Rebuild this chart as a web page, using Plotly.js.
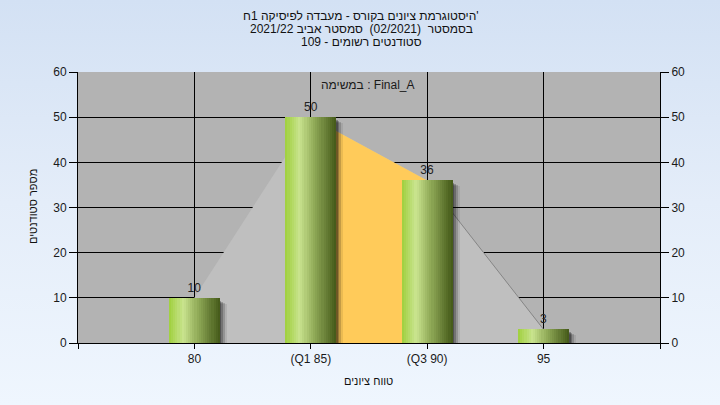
<!DOCTYPE html>
<html>
<head>
<meta charset="utf-8">
<script src="https://cdn.plot.ly/plotly-3.0.1.min.js"></script>
<style>
  html, body { margin: 0; padding: 0; }
  body { width: 720px; height: 405px; background: linear-gradient(to bottom, #d3e1f4 0%, #e4edf9 50%, #eff6fe 100%); }
  #chart { width: 720px; height: 405px; }
</style>
</head>
<body>
<div id="chart"></div>
<script>
// ---- data ----
const categories = ['80', '(Q1 85)', '(Q3 90)', '95'];
const counts = [10, 50, 36, 3];
const q1Index = 1;
const q3Index = 2;
const yTicks = [0, 10, 20, 30, 40, 50, 60];
const titleLines = [
  "היסטוגרמת ציונים בקורס - מעבדה לפיסיקה 1ח'",
  "בסמסטר  (02/2021)  סמסטר אביב 2021/22",
  "סטודנטים רשומים - 109"
];
const taskLabel = "במשימה : Final_A";
const xTitle = "טווח ציונים";
const yTitle = "מספר סטודנטים";

// ---- geometry / style ----
const plotL = 78, plotR = 660, plotT = 72, plotB = 343;
const W = 720, H = 405;
const xRange = [-1, categories.length];
const yRange = [0, 60];
const ux = (xRange[1] - xRange[0]) / (plotR - plotL); // units per px
const uy = (yRange[1] - yRange[0]) / (plotB - plotT);
const barW = 51 * ux;
const FONT = '"Liberation Sans", Arial, "DejaVu Sans", sans-serif';

const xIdx = categories.map((_, i) => i);

function hex(c) { return [parseInt(c.slice(1,3),16), parseInt(c.slice(3,5),16), parseInt(c.slice(5,7),16)]; }
const stops = [[0, '#9fcf3c'], [0.28, '#c9e48f'], [0.55, '#93ad5a'], [1, '#435818']];
function gradColor(t) {
  for (let i = 0; i < stops.length - 1; i++) {
    const [t0, c0] = stops[i], [t1, c1] = stops[i+1];
    if (t >= t0 && t <= t1) {
      const f = (t - t0) / (t1 - t0);
      const a = hex(c0), b = hex(c1);
      const m = a.map((v, k) => Math.round(v + (b[k] - v) * f));
      return `rgb(${m[0]},${m[1]},${m[2]})`;
    }
  }
  return stops[stops.length-1][1];
}

const traces = [];
// area behind bars (base subplot)
traces.push({
  type: 'scatter', x: xIdx, y: counts, mode: 'none', fill: 'tozeroy',
  fillcolor: '#bfbfbf', hoverinfo: 'skip', showlegend: false, xaxis: 'x', yaxis: 'y'
});
traces.push({
  type: 'scatter', x: xIdx.slice(q1Index, q3Index + 1), y: counts.slice(q1Index, q3Index + 1),
  mode: 'none', fill: 'tozeroy', fillcolor: '#ffcb5a', hoverinfo: 'skip', showlegend: false,
  xaxis: 'x', yaxis: 'y'
});
traces.push({
  type: 'scatter', x: xIdx.slice(q3Index), y: counts.slice(q3Index),
  mode: 'lines', line: { color: '#858585', width: 1 }, hoverinfo: 'skip', showlegend: false,
  xaxis: 'x', yaxis: 'y'
});

// shadows (overlay subplot)
[[1.5, 0.28, 3], [3, 0.22, 4], [5, 0.16, 5], [7, 0.08, 6]].forEach(([dx, a, dy]) => {
  traces.push({
    type: 'bar', x: xIdx, y: counts.map(v => v - dy * uy), width: barW,
    offset: -barW / 2 + dx * ux,
    marker: { color: `rgba(0,0,0,${a})`, line: { width: 0 } },
    hoverinfo: 'skip', showlegend: false, xaxis: 'x2', yaxis: 'y2'
  });
});

// gradient bars made of strips
const N = 24;
for (let i = 0; i < N; i++) {
  traces.push({
    type: 'bar', x: xIdx, y: counts, width: barW / N + 0.0005,
    offset: -barW / 2 + i * barW / N,
    marker: { color: gradColor((i + 0.5) / N), line: { width: 0 } },
    hoverinfo: 'skip', showlegend: false, xaxis: 'x2', yaxis: 'y2'
  });
}
// value labels
traces.push({
  type: 'bar', x: xIdx, y: counts, width: barW,
  marker: { color: 'rgba(0,0,0,0)', line: { width: 0 } },
  text: counts.map(String), textposition: 'outside', cliponaxis: false,
  textfont: { family: FONT, size: 12, color: '#222222' },
  hoverinfo: 'skip', showlegend: false, xaxis: 'x2', yaxis: 'y2'
});

const py = p => (plotB - p) / (plotB - plotT);
const px = p => (p - plotL) / (plotR - plotL);

const annotations = titleLines.map((t, i) => ({
  text: t, xref: 'paper', yref: 'paper', x: px(361), y: py(16 + 13 * i),
  xanchor: 'center', yanchor: 'middle', showarrow: false,
  font: { family: FONT, size: 12, color: '#111111' }
}));
annotations.push({
  text: taskLabel, xref: 'paper', yref: 'paper', x: px(368), y: py(85),
  xanchor: 'center', yanchor: 'middle', showarrow: false,
  font: { family: FONT, size: 12, color: '#1a1a1a' }
});
annotations.push({
  text: xTitle, xref: 'paper', yref: 'paper', x: px(368), y: py(381),
  xanchor: 'center', yanchor: 'middle', showarrow: false,
  font: { family: FONT, size: 11, color: '#111111' }
});
annotations.push({
  text: yTitle, xref: 'paper', yref: 'paper', x: px(33), y: py(207),
  xanchor: 'center', yanchor: 'middle', showarrow: false, textangle: -90,
  font: { family: FONT, size: 11, color: '#111111' }
});

const yCommon = {
  range: yRange, tickvals: yTicks, ticktext: yTicks.map(String),
  ticks: 'outside', ticklen: 8, tickcolor: '#000', tickwidth: 1,
  showline: true, linecolor: '#000', linewidth: 1, zeroline: false,
  tickfont: { family: FONT, size: 12, color: '#1a1a1a' }, fixedrange: true
};

const layout = {
  width: W, height: H,
  margin: { l: plotL, r: W - plotR, t: plotT, b: H - plotB, pad: 0 },
  paper_bgcolor: 'rgba(0,0,0,0)', plot_bgcolor: '#b3b3b3',
  barmode: 'overlay', bargap: 0,
  showlegend: false,
  xaxis: {
    range: xRange, tickvals: xIdx, ticktext: categories,
    ticks: 'outside', ticklen: 5, tickcolor: '#000',
    showgrid: true, gridcolor: '#000', gridwidth: 1,
    showline: true, linecolor: '#000', linewidth: 1, zeroline: false,
    tickfont: { family: FONT, size: 12, color: '#1a1a1a' }, fixedrange: true,
    minor: { tickvals: xRange, ticks: 'outside', ticklen: 5, tickcolor: '#000', showgrid: false }
  },
  xaxis2: { range: xRange, overlaying: 'x', visible: false, fixedrange: true },
  yaxis: Object.assign({}, yCommon, { showgrid: true, gridcolor: '#000', gridwidth: 1, side: 'left' }),
  yaxis2: Object.assign({}, yCommon, { overlaying: 'y', side: 'right', showgrid: false }),
  annotations: annotations
};

Plotly.newPlot('chart', traces, layout, { displayModeBar: false, staticPlot: true });
</script>
</body>
</html>
